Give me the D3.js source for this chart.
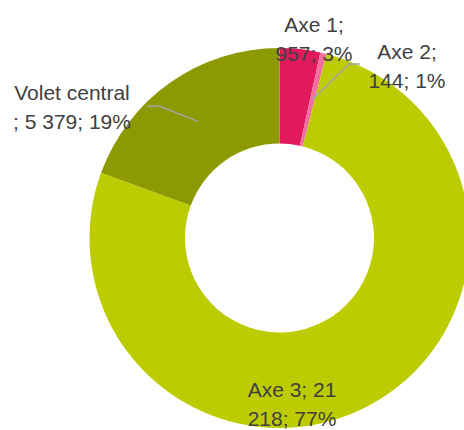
<!DOCTYPE html>
<html>
<head>
<meta charset="utf-8">
<script src="https://cdn.jsdelivr.net/npm/d3@7"></script>
<style>
  body { margin: 0; background: #fff; }
  svg { display: block; }
</style>
</head>
<body>
<div id="chart"></div>
<script>
// data
var categories = ["Axe 1", "Axe 2", "Axe 3", "Volet central"];
var values = [957, 144, 21218, 5379];
var labelLines = [
  ["Axe 1;", "957; 3%"],
  ["Axe 2;", "144; 1%"],
  ["Axe 3; 21", "218; 77%"],
  ["Volet central", "; 5 379; 19%"]
];
var colors = ["#e3195d", "#f16fa1", "#bdcc00", "#8c9900"];

var width = 464,
    height = 430,
    cx = 279.5,
    cy = 238,
    outerR = 190,
    innerR = 94.5,
    lineGap = 28.5;

// label placement (x centre, first baseline) and leader bends
var labelPos = [
  { x: 314, y: 32 },
  { x: 407, y: 59, leader: [[360, 64], [349, 64]] },
  { x: 292, y: 397 },
  { x: 72, y: 100, leader: [[147, 106], [159, 106]] }
];

var svg = d3.select("#chart")
    .append("svg")
    .attr("width", width)
    .attr("height", height);

var g = svg.append("g")
    .attr("transform", "translate(" + cx + "," + cy + ")");

var pie = d3.pie()
    .sort(null)
    .value(function(d) { return d; });

var arc = d3.arc()
    .innerRadius(innerR)
    .outerRadius(outerR);

var midArc = d3.arc()
    .innerRadius((innerR + outerR) / 2)
    .outerRadius((innerR + outerR) / 2);

var arcs = pie(values);

g.selectAll("path.slice")
    .data(arcs)
    .enter().append("path")
    .attr("class", "slice")
    .attr("fill", function(d, i) { return colors[i]; })
    .attr("d", arc);

// leader lines
arcs.forEach(function(d, i) {
  var lp = labelPos[i];
  if (!lp.leader) return;
  var c = midArc.centroid(d);
  var pts = lp.leader.map(function(p) { return [p[0] - cx, p[1] - cy]; });
  pts.push(c);
  g.append("path")
      .attr("d", d3.line()(pts))
      .attr("fill", "none")
      .attr("stroke", "#a6a6a6")
      .attr("stroke-width", 1.5);
});

// labels
var labels = svg.selectAll("text.lbl")
    .data(labelLines)
    .enter().append("text")
    .attr("class", "lbl")
    .attr("text-anchor", "middle")
    .attr("font-family", "'Liberation Sans', Arial, sans-serif")
    .attr("font-size", 21)
    .attr("fill", "#404040");

labels.each(function(lines, i) {
  var t = d3.select(this);
  lines.forEach(function(s, j) {
    t.append("tspan")
        .attr("x", labelPos[i].x)
        .attr("y", labelPos[i].y + j * lineGap)
        .text(s);
  });
});
</script>
</body>
</html>
